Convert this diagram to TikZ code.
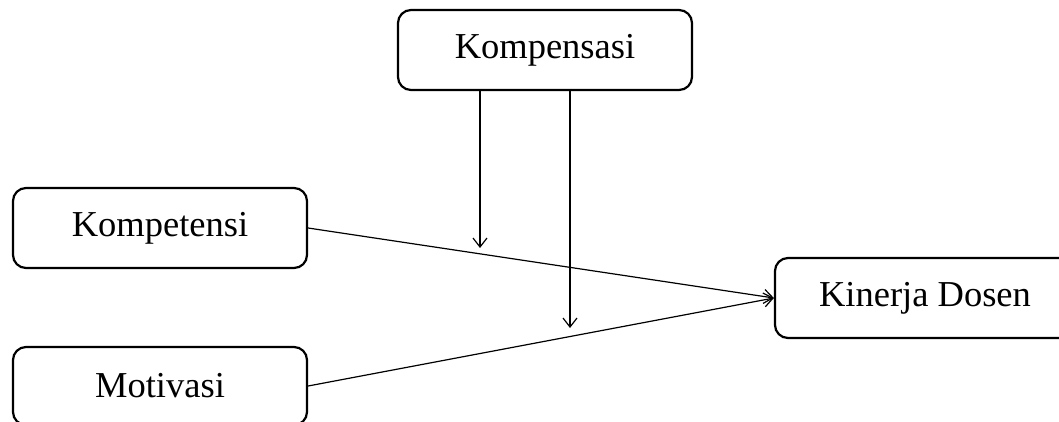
\documentclass[tikz,border=0pt]{standalone}
\usepackage{fontspec}
\setmainfont{Liberation Serif}
\usetikzlibrary{arrows.meta}
\begin{document}
\begin{tikzpicture}[x=1pt,y=-1pt,
  box/.style={draw, line width=2.2pt, rounded corners=13pt, inner sep=0pt, font=\fontsize{36.5}{42}\selectfont},
  conn/.style={line width=1.2pt, -{Straight Barb[length=9pt,width=14pt,line width=1.2pt]}}]
\useasboundingbox (0,0) rectangle (1059,421);
\node[box, minimum width=294pt, minimum height=80pt] (komp) at (545,50) {Kompensasi};
\node[box, minimum width=294pt, minimum height=80pt] (kompt) at (160,228) {Kompetensi};
\node[box, minimum width=294pt, minimum height=78pt] (moti) at (160,386) {Motivasi};
\node[box, minimum width=300pt, minimum height=80pt] (kin) at (925,298) {Kinerja Dosen};
\coordinate (t1) at (480,248);
\coordinate (t2) at (570,328);
\draw[conn] (kompt.east) -- (kin.west);
\draw[conn] (moti.east) -- (kin.west);
\draw[conn] (komp.south -| t1) -- (t1);
\draw[conn] (komp.south -| t2) -- (t2);
\end{tikzpicture}
\end{document}
